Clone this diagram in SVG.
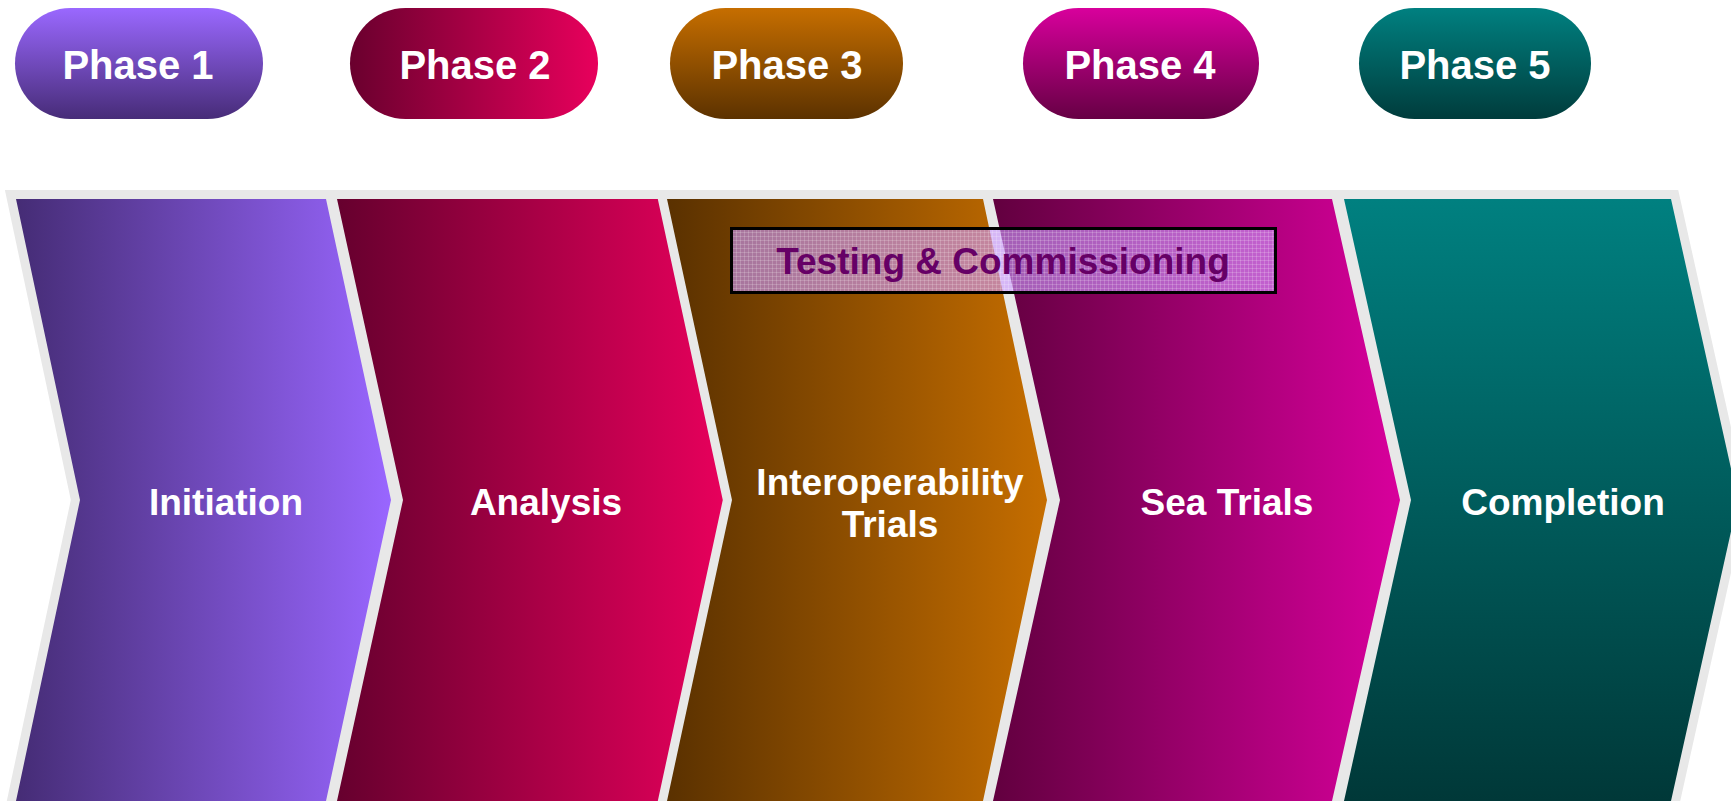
<svg xmlns="http://www.w3.org/2000/svg" width="1731" height="801" viewBox="0 0 1731 801">
<defs>
<linearGradient id="gP1" x1="0" y1="0" x2="0" y2="1"><stop offset="0" stop-color="#9A68FF"/><stop offset="1" stop-color="#472C78"/></linearGradient>
<linearGradient id="gP2" x1="0" y1="0" x2="1" y2="0"><stop offset="0" stop-color="#6A002E"/><stop offset="1" stop-color="#E8005C"/></linearGradient>
<linearGradient id="gP3" x1="0" y1="0" x2="0" y2="1"><stop offset="0" stop-color="#C66E00"/><stop offset="1" stop-color="#5C3200"/></linearGradient>
<linearGradient id="gP4" x1="0" y1="0" x2="0" y2="1"><stop offset="0" stop-color="#D8009C"/><stop offset="1" stop-color="#660044"/></linearGradient>
<linearGradient id="gP5" x1="0" y1="0" x2="0" y2="1"><stop offset="0" stop-color="#008080"/><stop offset="1" stop-color="#003C3C"/></linearGradient>
<linearGradient id="gC1" x1="0" y1="0" x2="1" y2="0"><stop offset="0" stop-color="#452C75"/><stop offset="1" stop-color="#9966FF"/></linearGradient>
<linearGradient id="gC2" x1="0" y1="0" x2="1" y2="0"><stop offset="0" stop-color="#66002E"/><stop offset="1" stop-color="#E8005C"/></linearGradient>
<linearGradient id="gC3" x1="0" y1="0" x2="1" y2="0"><stop offset="0" stop-color="#5A3100"/><stop offset="1" stop-color="#C66E00"/></linearGradient>
<linearGradient id="gC4" x1="0" y1="0" x2="1" y2="0"><stop offset="0" stop-color="#62003F"/><stop offset="1" stop-color="#D8009C"/></linearGradient>
<linearGradient id="gC5" x1="0" y1="0" x2="0" y2="1"><stop offset="0" stop-color="#008080"/><stop offset="1" stop-color="#003838"/></linearGradient>
<pattern id="mesh" width="4" height="4" patternUnits="userSpaceOnUse">
<rect width="4" height="4" fill="#CC99FF" fill-opacity="0.62"/>
<path d="M0 0.5H4M0.5 0V4" stroke="#FFFFFF" stroke-opacity="0.18" stroke-width="1"/>
</pattern>
</defs>
<style>
.pill text{font-family:"Liberation Sans",Arial,sans-serif;font-weight:bold;font-size:40px;fill:#FFFFFF;text-anchor:middle}
.chev polygon{stroke:#E8E8E8;stroke-width:18;paint-order:stroke;stroke-linejoin:miter}
.chev text{font-family:"Liberation Sans",Arial,sans-serif;font-weight:bold;font-size:37px;fill:#FFFFFF;text-anchor:middle}
.banner text{font-family:"Liberation Sans",Arial,sans-serif;font-weight:bold;font-size:37px;fill:#660066;text-anchor:middle}
</style>
<rect width="1731" height="801" fill="#FFFFFF"/>

<g id="phase1" class="pill"><rect x="15" y="8" width="248" height="111" rx="55.5" fill="url(#gP1)"/><text x="138" y="79">Phase 1</text></g>
<g id="phase2" class="pill"><rect x="350" y="8" width="248" height="111" rx="55.5" fill="url(#gP2)"/><text x="475" y="79">Phase 2</text></g>
<g id="phase3" class="pill"><rect x="670" y="8" width="233" height="111" rx="55.5" fill="url(#gP3)"/><text x="787" y="79">Phase 3</text></g>
<g id="phase4" class="pill"><rect x="1023" y="8" width="236" height="111" rx="55.5" fill="url(#gP4)"/><text x="1140" y="79">Phase 4</text></g>
<g id="phase5" class="pill"><rect x="1359" y="8" width="232" height="111" rx="55.5" fill="url(#gP5)"/><text x="1475" y="79">Phase 5</text></g>

<g id="initiation" class="chev"><polygon points="16,199 326,199 391,500 326,801 16,801 80,500" fill="url(#gC1)"/><text x="226" y="515">Initiation</text></g>
<g id="analysis" class="chev"><polygon points="337,199 659,199 726,500 659,801 337,801 403,500" fill="url(#gC2)"/><text x="546" y="515">Analysis</text></g>
<g id="interoperability" class="chev"><polygon points="667,199 983,199 1047,500 983,801 667,801 732,500" fill="url(#gC3)"/><text x="890" y="495">Interoperability</text><text x="890" y="537">Trials</text></g>
<g id="seatrials" class="chev"><polygon points="993,199 1332,199 1400,500 1332,801 993,801 1060,500" fill="url(#gC4)"/><text x="1227" y="515">Sea Trials</text></g>
<g id="completion" class="chev"><polygon points="1344,199 1671,199 1738,500 1671,801 1344,801 1411,500" fill="url(#gC5)"/><text x="1563" y="515">Completion</text></g>

<g id="testing" class="banner"><rect x="731.5" y="228.5" width="544" height="64" fill="url(#mesh)" stroke="#000000" stroke-width="3"/><text x="1003" y="274">Testing &amp; Commissioning</text></g>
</svg>
